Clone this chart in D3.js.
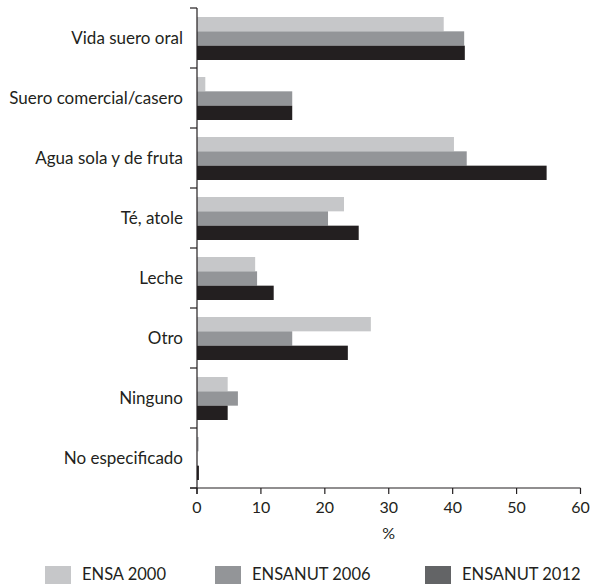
<!DOCTYPE html>
<html><head><meta charset="utf-8">
<script src="https://cdn.jsdelivr.net/npm/d3@7"></script>
<style>body{margin:0;background:#fff}svg{display:block}text{font-family:Lato,"Open Sans",sans-serif;fill:#231f20}</style>
</head><body><svg id="c" width="591" height="584"></svg>
<script>
const categories = ["Vida suero oral","Suero comercial/casero","Agua sola y de fruta","Té, atole","Leche","Otro","Ninguno","No especificado"];
const seriesNames = ["ENSA 2000","ENSANUT 2006","ENSANUT 2012"];
const ensa2000 = [38.6, 1.3, 40.2, 23.0, 9.1, 27.2, 4.8, 0.3];
const ensanut2006 = [41.8, 14.9, 42.2, 20.5, 9.4, 14.9, 6.4, 0.0];
const ensanut2012 = [41.9, 14.9, 54.7, 25.3, 12.0, 23.6, 4.8, 0.3];
const xTicks = [0,10,20,30,40,50,60];
const barColors = ["#c6c7c9","#939598","#231f20"];
const legendColors = ["#c6c7c9","#939598","#636466"];

const svg = d3.select("#c");
const x = d3.scaleLinear().domain([0,60]).range([197,580.5]);
const y = d3.scaleBand().domain(categories).range([8,488]);
const sub = d3.scaleBand().domain(seriesNames).range([9,52]);
const series = [ensa2000, ensanut2006, ensanut2012];

series.forEach((vals,si)=>{
  svg.append("g").selectAll("rect").data(categories).join("rect")
    .attr("x", x(0))
    .attr("y", (c)=> y(c)+sub(seriesNames[si]))
    .attr("width", (c,i)=> Math.max(0, x(vals[i])-x(0)))
    .attr("height", sub.bandwidth())
    .attr("fill", barColors[si]);
});

const ax = svg.append("g").attr("stroke","#231f20").attr("stroke-width",1.2);
ax.append("line").attr("x1",x(0)).attr("x2",x(0)).attr("y1",8).attr("y2",494);
const bounds = categories.map(c=>y(c)).concat([y.range()[1]]);
ax.selectAll(".yt").data(bounds).join("line")
  .attr("x1",190).attr("x2",x(0)).attr("y1",d=>d).attr("y2",d=>d);
ax.append("line").attr("x1",190).attr("x2",x(60)).attr("y1",488).attr("y2",488);
ax.selectAll(".xt").data(xTicks).join("line")
  .attr("x1",d=>x(d)).attr("x2",d=>x(d)).attr("y1",488).attr("y2",494);

svg.append("g").selectAll("text").data(xTicks).join("text")
  .attr("x",d=>x(d)).attr("y",513).attr("text-anchor","middle")
  .attr("font-size",16).text(d=>d);
svg.append("text").attr("x",x(30)).attr("y",539).attr("text-anchor","middle")
  .attr("font-size",16).text("%");

svg.append("g").selectAll("text").data(categories).join("text")
  .attr("x",183).attr("y",c=>y(c)+y.bandwidth()/2+6).attr("text-anchor","end")
  .attr("font-size",17).text(c=>c);

const lx = [45,215,425];
const lg = svg.append("g");
seriesNames.forEach((n,i)=>{
  lg.append("rect").attr("x",lx[i]).attr("y",566).attr("width",26).attr("height",18).attr("fill",legendColors[i]);
  lg.append("text").attr("x",lx[i]+37).attr("y",580).attr("font-size",16.5).text(n);
});
</script></body></html>
